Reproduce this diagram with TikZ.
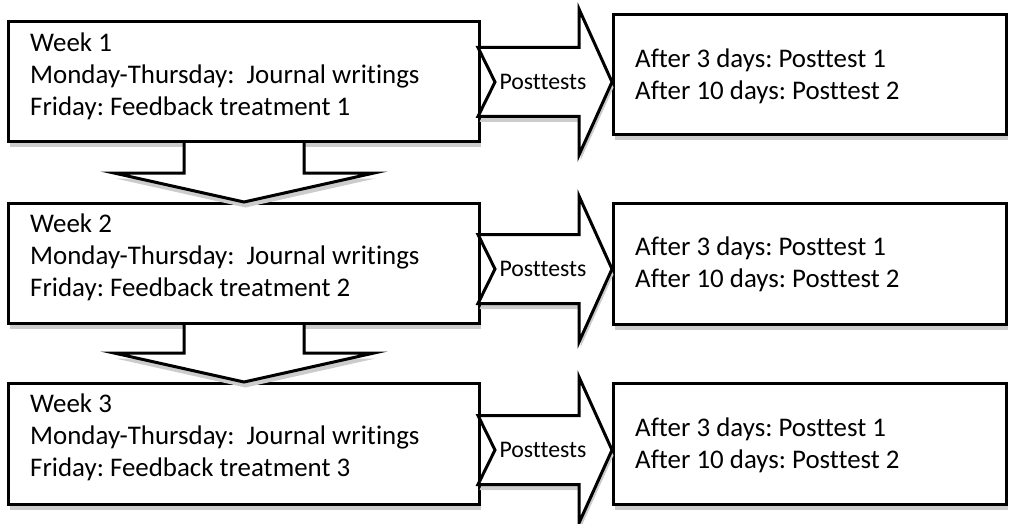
\documentclass[tikz,border=0pt]{standalone}
\usepackage{fontspec}
\setmainfont[Ligatures={NoCommon}]{Carlito}
\usetikzlibrary{shadows,calc}
\begin{document}
\frenchspacing
\begin{tikzpicture}[x=1pt,y=-1pt,
  shd/.style={drop shadow={shadow xshift=1.5pt, shadow yshift=-5.5pt, fill=black!20, opacity=1}},
  shp/.style={draw=black, line width=3pt, fill=white, shd},
  box/.style={shp, rectangle, anchor=north west, inner sep=0pt},
  body/.style={font=\fontsize{26.9}{32}\selectfont, align=left, inner sep=0pt, anchor=north west},
  ptxt/.style={font=\fontsize{23.8}{28}\selectfont, inner sep=0pt}
]
\useasboundingbox (0,0) rectangle (1011,524);
% left boxes
\node[box, minimum width=471pt, minimum height=120pt] (w1) at (7,20) {};
\node[box, minimum width=471pt, minimum height=120pt] (w2) at (7,202) {};
\node[box, minimum width=471pt, minimum height=121pt] (w3) at (7,382) {};
% right boxes
\node[box, minimum width=393pt, minimum height=120pt] (r1) at (612,13) {};
\node[box, minimum width=393pt, minimum height=121pt] (r2) at (612,202) {};
\node[box, minimum width=393pt, minimum height=121pt] (r3) at (612,382) {};
% texts
\node[body] (t1) at ($(w1.north west)+(23,13)$) {Week 1\\Monday-Thursday:\ \ Journal writings\\Friday: Feedback treatment 1};
\node[body] (t2) at ($(w2.north west)+(23,12)$) {Week 2\\Monday-Thursday:\ \ Journal writings\\Friday: Feedback treatment 2};
\node[body] (t3) at ($(w3.north west)+(23,12)$) {Week 3\\Monday-Thursday:\ \ Journal writings\\Friday: Feedback treatment 3};
\node[body] (s1) at ($(r1.north west)+(23,36)$) {After 3 days: Posttest 1\\After 10 days: Posttest 2};
\node[body] (s2) at ($(r2.north west)+(23,35)$) {After 3 days: Posttest 1\\After 10 days: Posttest 2};
\node[body] (s3) at ($(r3.north west)+(23,36)$) {After 3 days: Posttest 1\\After 10 days: Posttest 2};
% down arrows
\foreach \a/\b in {w1/w2, w2/w3}{
  \filldraw[shp] ($(\a.south)+(-60,0)$) -- ($(\b.north)+(-60,-29)$) -- ($(\b.north)+(-130,-29)$)
    -- (\b.north) -- ($(\b.north)+(130,-29)$) -- ($(\b.north)+(60,-29)$) -- ($(\a.south)+(60,0)$);
}
% right arrows
\coordinate (a1) at (478,82);
\coordinate (a2) at (478,269);
\coordinate (a3) at (478,450);
\foreach \c/\r in {a1/r1, a2/r2, a3/r3}{
  \filldraw[shp] ($(\c)+(0,-34.5)$) -- ($(\c)+(101,-34.5)$) -- ($(\c)+(101,-73)$) -- (\c -| \r.west)
    -- ($(\c)+(101,73)$) -- ($(\c)+(101,34.5)$) -- ($(\c)+(0,34.5)$) -- ($(\c)+(17,0)$) -- cycle;
  \node[ptxt] (p\c) at ($(\c)+(65,0)$) {Posttests};
}
\end{tikzpicture}
\end{document}
